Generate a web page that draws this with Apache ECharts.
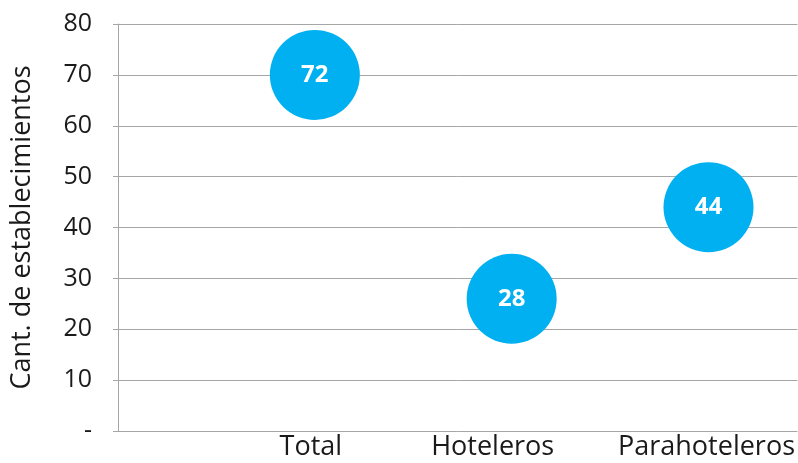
<!DOCTYPE html>
<html>
<head>
<meta charset="utf-8">
<script src="https://cdn.jsdelivr.net/npm/echarts@6/dist/echarts.min.js"></script>
<style>
  html, body { margin: 0; padding: 0; background: #fff; }
  #chart { width: 798px; height: 463px; }
</style>
</head>
<body>
<div id="chart"></div>
<script>
// datos
const categories = ['Total', 'Hoteleros', 'Parahoteleros'];
const yValues = [70, 26, 44];
const bubbleLabels = [72, 28, 44];
const yTicks = ['-', '10', '20', '30', '40', '50', '60', '70', '80'];

const chart = echarts.init(document.getElementById('chart'));

const points = categories.map((c, i) => ({
  value: [i + 1, yValues[i]],
  name: c,
  label: { formatter: String(bubbleLabels[i]) },
}));

// en el original las etiquetas no quedan centradas del todo bajo cada burbuja
const labelStyle = { fontSize: 27, color: '#1a1a1a' };
const richCats = {
  c0: { ...labelStyle, padding: [0, 8, 0, 0] },
  c1: { ...labelStyle, padding: [0, 38, 0, 0] },
  c2: { ...labelStyle, padding: [0, 4, 0, 0] },
};

chart.setOption({
  animation: false,
  textStyle: { fontFamily: 'Open Sans' },
  grid: { left: 118, right: 0, top: 24, bottom: 32 },
  xAxis: {
    type: 'value',
    min: 0,
    max: 3.452,
    interval: 1,
    axisLine: { show: false },
    axisTick: { show: false },
    splitLine: { show: false },
    axisLabel: {
      color: '#1a1a1a',
      fontSize: 27,
      margin: 3,
      showMaxLabel: false,
      rich: richCats,
      formatter: v => {
        if (v >= 1 && v <= categories.length && v % 1 === 0) {
          return '{c' + (v - 1) + '|' + categories[v - 1] + '}';
        }
        return '';
      },
    },
  },
  yAxis: {
    type: 'value',
    min: 0,
    max: 80,
    interval: 10,
    name: 'Cant. de establecimientos',
    nameLocation: 'middle',
    nameGap: 82,
    nameTextStyle: { fontSize: 27, color: '#1a1a1a' },
    axisLine: { show: true, lineStyle: { color: '#a6a6a6', width: 1 } },
    axisTick: { show: true, length: 5, lineStyle: { color: '#a6a6a6' } },
    splitLine: { lineStyle: { color: '#a6a6a6', width: 1 } },
    axisLabel: {
      color: '#1a1a1a',
      fontSize: 25,
      margin: 26,
      formatter: v => yTicks[Math.round(v / 10)],
    },
  },
  series: [{
    type: 'scatter',
    symbolSize: 90,
    itemStyle: { color: '#00b0f0', opacity: 1 },
    label: {
      show: true,
      position: 'inside',
      color: '#fff',
      fontSize: 24,
      fontWeight: 'bold',
    },
    data: points,
  }],
});
</script>
</body>
</html>
